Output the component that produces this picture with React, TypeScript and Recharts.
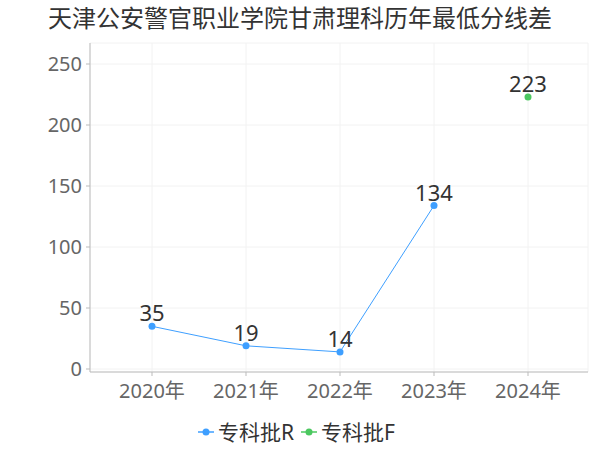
import React from "react";
import { LineChart, Line, XAxis, YAxis, CartesianGrid, LabelList } from "recharts";

const categories = ["2020年", "2021年", "2022年", "2023年", "2024年"];
const seriesR = [35, 19, 14, 134, null];
const seriesF = [null, null, null, null, 223];
const yTicks = [0, 50, 100, 150, 200, 250];
const title = "天津公安警官职业学院甘肃理科历年最低分线差";
const seriesNames = ["专科批R", "专科批F"];
const colors = ["#3e9fff", "#4cc860"];

const data = categories.map((c, i) => ({ name: c, R: seriesR[i], F: seriesF[i] }));

const FONT = "'Noto Sans', 'Noto Sans CJK SC', sans-serif";

function LegendItem({ color, label }: { color: string; label: string }) {
  return (
    <span style={{ display: "inline-flex", alignItems: "center", marginRight: 7 }}>
      <svg width={16} height={10} style={{ marginRight: 4 }}>
        <line x1={0} y1={5} x2={16} y2={5} stroke={color} strokeWidth={1.5} />
        <circle cx={8} cy={5} r={3.5} fill={color} />
      </svg>
      <span>{label}</span>
    </span>
  );
}

export default function App() {
  return (
    <div style={{ position: "relative", width: 600, height: 450, fontFamily: FONT, background: "#fff" }}>
      <style>{`body{margin:0}`}</style>
      <div
        style={{
          position: "absolute",
          top: 2,
          left: 0,
          width: 600,
          textAlign: "center",
          fontSize: 24,
          color: "#333",
          lineHeight: "32px",
        }}
      >
        {title}
      </div>
      <LineChart
        width={600}
        height={450}
        data={data}
        margin={{ top: 43, right: 12, left: 0, bottom: 38 }}
        style={{ fontFamily: FONT }}
      >
        <CartesianGrid stroke="#f2f2f2" strokeWidth={1} />
        <XAxis
          dataKey="name"
          height={40}
          padding={{ left: 62, right: 60 }}
          tick={{ fill: "#666", fontSize: 20 }}
          tickLine={{ stroke: "#bbb" }}
          axisLine={{ stroke: "#bbb" }}
          tickSize={4}
          tickMargin={8}
          interval={0}
        />
        <YAxis
          width={90}
          domain={[0, 250]}
          ticks={yTicks}
          padding={{ top: 21, bottom: 3 }}
          tick={{ fill: "#666", fontSize: 20 }}
          tickLine={{ stroke: "#bbb" }}
          axisLine={{ stroke: "#bbb" }}
          tickSize={4}
          tickMargin={4}
        />
        <Line
          type="linear"
          dataKey="R"
          name={seriesNames[0]}
          stroke={colors[0]}
          strokeWidth={1}
          dot={{ r: 3.5, fill: colors[0], stroke: colors[0], strokeWidth: 0 }}
          isAnimationActive={false}
          connectNulls={false}
        >
          <LabelList dataKey="R" position="top" offset={5} fill="#333" fontSize={22} />
        </Line>
        <Line
          type="linear"
          dataKey="F"
          name={seriesNames[1]}
          stroke={colors[1]}
          strokeWidth={1}
          dot={{ r: 3.5, fill: colors[1], stroke: colors[1], strokeWidth: 0 }}
          isAnimationActive={false}
        >
          <LabelList dataKey="F" position="top" offset={5} fill="#333" fontSize={22} />
        </Line>
      </LineChart>
      <div
        style={{
          position: "absolute",
          top: 417,
          left: 0,
          width: 600,
          display: "flex",
          justifyContent: "center",
          fontSize: 21,
          color: "#333",
          lineHeight: "30px",
        }}
      >
        <LegendItem color={colors[0]} label={seriesNames[0]} />
        <LegendItem color={colors[1]} label={seriesNames[1]} />
      </div>
    </div>
  );
}
